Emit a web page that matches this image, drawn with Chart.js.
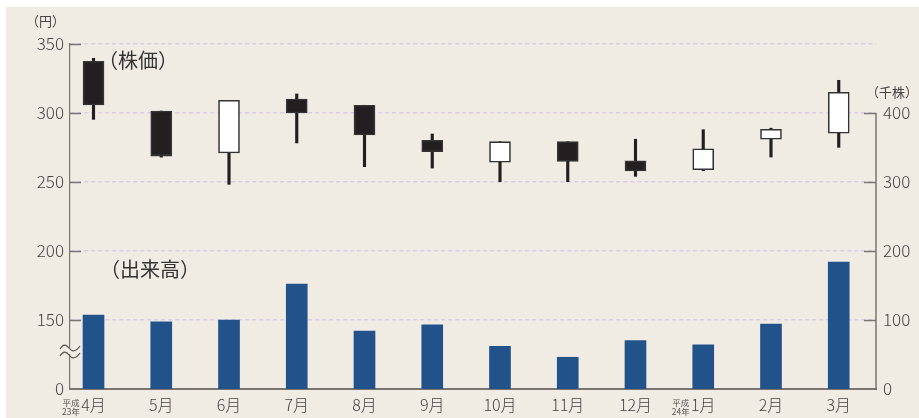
<!DOCTYPE html>
<html><head><meta charset="utf-8">
<script src="https://cdn.jsdelivr.net/npm/chart.js@4/dist/chart.umd.min.js"></script>
<style>html,body{margin:0;padding:0;background:#fff}#wrap{width:919px;height:418px;position:relative}</style>
</head><body><div id="wrap"><canvas id="c" width="919" height="418"></canvas></div>
<script>
const months = ['4月','5月','6月','7月','8月','9月','10月','11月','12月','1月','2月','3月'];
const eraLabels = {0: ['平成','23年'], 9: ['平成','24年']};
const opens  = [337.5, 301.4, 271.0, 310.1, 305.6, 280.2, 264.3, 279.2, 265.4, 258.9, 281.0, 285.3];
const closes = [305.8, 268.8, 309.2, 300.0, 284.1, 272.0, 279.2, 265.0, 258.0, 274.1, 288.2, 315.0];
const highs  = [339.6, 301.4, 309.2, 313.8, 305.6, 284.8, 279.2, 279.2, 281.0, 287.9, 289.0, 323.7];
const lows   = [295.4, 268.0, 248.3, 278.3, 261.1, 260.1, 250.2, 250.2, 254.1, 258.2, 268.1, 275.1];
const volumes = [107, 97.5, 100, 152, 84, 93, 62, 46, 70, 64, 94, 184];
const priceTicks = [100, 150, 200, 250, 300, 350];
const volumeTicks = [0, 100, 200, 300, 400];

const FONT = "'Noto Sans CJK JP', 'Noto Sans', sans-serif";
const TXT = '#444';
const AXIS = '#7a7570';

const bgPlugin = {
  id: 'bg',
  beforeDraw(chart) {
    const ctx = chart.ctx;
    ctx.save();
    ctx.fillStyle = '#ffffff';
    ctx.fillRect(0, 0, chart.width, chart.height);
    ctx.fillStyle = '#F0ECE3';
    ctx.fillRect(6, 7, chart.width - 6, chart.height - 7);
    ctx.restore();
  }
};

const decoPlugin = {
  id: 'deco',
  afterDraw(chart) {
    const ctx = chart.ctx;
    const y = chart.scales.y, y1 = chart.scales.y1, x = chart.scales.x;
    const L = chart.chartArea.left, R = chart.chartArea.right;
    ctx.save();
    ctx.strokeStyle = AXIS; ctx.lineWidth = 1.5;
    priceTicks.forEach(v => {
      if (v === 100) return;
      const py = Math.round(y.getPixelForValue(v)) + 0.5;
      ctx.beginPath(); ctx.moveTo(L, py); ctx.lineTo(L + 11, py); ctx.stroke();
    });
    const top1 = y1.getPixelForValue(400), bot1 = y1.getPixelForValue(0);
    ctx.beginPath(); ctx.moveTo(R, top1); ctx.lineTo(R, bot1); ctx.stroke();
    volumeTicks.forEach(v => {
      if (v === 0) return;
      const py = Math.round(y1.getPixelForValue(v)) + 0.5;
      ctx.beginPath(); ctx.moveTo(R - 12, py); ctx.lineTo(R, py); ctx.stroke();
    });
    const by = 347;
    ctx.fillStyle = '#F0ECE3';
    ctx.fillRect(L - 2, by + 1, 4, 6);
    ctx.strokeStyle = '#555'; ctx.lineWidth = 1.2;
    [by, by + 7].forEach(yy => {
      ctx.beginPath();
      ctx.moveTo(L - 10, yy + 2);
      ctx.bezierCurveTo(L - 7, yy - 3, L - 4, yy - 3, L - 1, yy + 1);
      ctx.bezierCurveTo(L + 2, yy + 5, L + 6, yy + 5, L + 10, yy - 1);
      ctx.stroke();
    });
    ctx.fillStyle = '#555';
    ctx.textAlign = 'center'; ctx.textBaseline = 'middle';
    Object.keys(eraLabels).forEach(k => {
      const i = +k;
      ctx.font = "16px " + FONT;
      const w = ctx.measureText(months[i]).width;
      const cx = x.getPixelForValue(i) - w / 2 - 10;
      ctx.font = "8.5px " + FONT;
      ctx.fillText(eraLabels[k][0], cx, 403);
      ctx.fillText(eraLabels[k][1], cx, 411.5);
    });
    ctx.fillStyle = '#333';
    ctx.textAlign = 'left';
    ctx.font = "20px " + FONT;
    ctx.fillText('（株価）', 98, 60);
    ctx.fillText('（出来高）', 100, 269);
    ctx.font = "13px " + FONT;
    ctx.fillStyle = TXT;
    ctx.fillText('（円）', 26, 21);
    ctx.fillText('（千株）', 866, 92);
    ctx.restore();
  }
};

const candleColors = opens.map((o, i) => closes[i] < o ? '#231F20' : '#FFFFFF');

new Chart(document.getElementById('c'), {
  type: 'bar',
  data: {
    datasets: [
      {
        label: 'body', yAxisID: 'y', order: 0, grouped: false,
        data: months.map((m, i) => ({x: i, y: [opens[i], closes[i]]})),
        backgroundColor: candleColors, borderColor: '#333', borderWidth: 1.6,
        borderSkipped: false, barThickness: 21
      },
      {
        label: 'wick', yAxisID: 'y', order: 1, grouped: false,
        data: months.map((m, i) => ({x: i, y: [lows[i], highs[i]]})),
        backgroundColor: '#231F20', borderWidth: 0, barThickness: 2.5
      },
      {
        label: 'volume', yAxisID: 'y1', order: 2, grouped: false,
        data: months.map((m, i) => ({x: i, y: volumes[i]})),
        backgroundColor: '#22528A', borderWidth: 0, barThickness: 21
      }
    ]
  },
  options: {
    responsive: false, animation: false,
    devicePixelRatio: 1,
    layout: {padding: {top: 44, left: 0, right: 0, bottom: 0}},
    plugins: {legend: {display: false}, tooltip: {enabled: false}},
    scales: {
      x: {
        type: 'linear', offset: false, min: -0.347, max: 11.55,
        afterFit(s) { s.height = 29; },
        afterBuildTicks(s) { s.ticks = months.map((m, i) => ({value: i})); },
        grid: {display: false, drawTicks: false},
        border: {display: true, color: AXIS, width: 2},
        ticks: {
          padding: 6, color: TXT, font: {family: FONT, size: 16, weight: '300'},
          autoSkip: false, maxRotation: 0,
          callback: v => months[v]
        }
      },
      y: {
        type: 'linear', position: 'left', min: 100, max: 350,
        afterFit(s) { s.width = 70; },
        afterBuildTicks(s) { s.ticks = priceTicks.map(v => ({value: v})); },
        grid: {
          drawTicks: false, lineWidth: 1.6,
          color: c => c.tick && c.tick.value === 100 ? 'rgba(0,0,0,0)' : '#DCCBE6'
        },
        border: {display: true, color: AXIS, width: 1.2, dash: [4, 3]},
        ticks: {
          padding: 6, color: TXT, font: {family: FONT, size: 17, weight: '300'},
          callback: v => v === 100 ? '0' : String(v)
        }
      },
      y1: {
        type: 'linear', position: 'right', min: 0, max: 500,
        afterFit(s) { s.width = 43; },
        afterBuildTicks(s) { s.ticks = volumeTicks.map(v => ({value: v})); },
        grid: {display: false, drawTicks: false},
        border: {display: false},
        ticks: {padding: 7, color: TXT, font: {family: FONT, size: 17, weight: '300'}}
      }
    }
  },
  plugins: [bgPlugin, decoPlugin]
});
</script></body></html>
